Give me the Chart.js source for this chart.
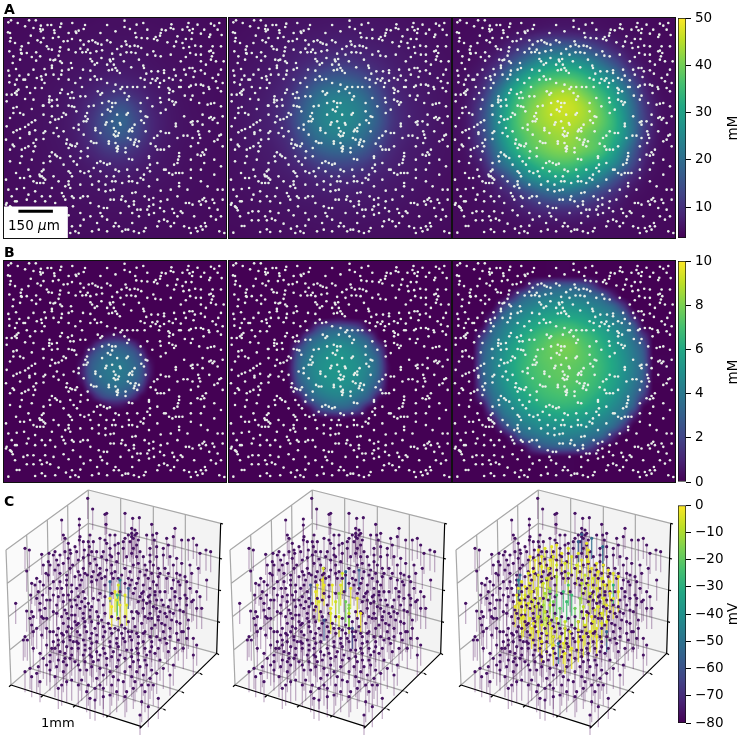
<!DOCTYPE html>
<html><head><meta charset="utf-8">
<script src="https://cdn.jsdelivr.net/npm/chart.js@4"></script>
<style>
html,body{margin:0;padding:0;background:#fff;width:743px;height:735px;overflow:hidden;font-family:"DejaVu Sans",sans-serif;color:#000}
canvas{position:absolute}
.p{outline:1px solid #111}
.t{position:absolute;white-space:pre;line-height:1}
.L{font-weight:bold;font-size:14px}
.R{font-size:13.5px;transform:translate(-50%,-50%) rotate(-90deg)}
</style></head><body>
<canvas id="a1" class="p" style="left:4px;top:18px" width="222" height="220"></canvas>
<canvas id="a2" class="p" style="left:229px;top:18px" width="222" height="220"></canvas>
<canvas id="a3" class="p" style="left:453px;top:18px" width="222" height="220"></canvas>
<canvas id="b1" class="p" style="left:4px;top:261px" width="222" height="221"></canvas>
<canvas id="b2" class="p" style="left:229px;top:261px" width="222" height="221"></canvas>
<canvas id="b3" class="p" style="left:453px;top:261px" width="222" height="221"></canvas>
<canvas id="c1" style="left:0px;top:485px" width="230" height="250"></canvas>
<canvas id="c2" style="left:224px;top:485px" width="230" height="250"></canvas>
<canvas id="c3" style="left:450px;top:485px" width="230" height="250"></canvas>
<canvas id="cbA" style="left:678px;top:8px" width="65" height="240"></canvas>
<canvas id="cbB" style="left:678px;top:251px" width="65" height="241"></canvas>
<canvas id="cbC" style="left:678px;top:495px" width="65" height="238"></canvas>
<div class="t L" style="left:4px;top:2px">A</div>
<div class="t L" style="left:4px;top:245px">B</div>
<div class="t L" style="left:4px;top:494px">C</div>
<div class="t" style="left:8px;top:219px;font-size:13.5px;z-index:3">150 <i>µ</i>m</div>
<div class="t" style="left:41px;top:716px;font-size:13px;z-index:3">1mm</div>
<div class="t R" style="left:733px;top:128px">mM</div>
<div class="t R" style="left:733px;top:372px">mM</div>
<div class="t R" style="left:733px;top:614px">mV</div>
<script>
// ---------- colour map ----------
const viridisStops=['#440154','#482475','#414487','#355f8d','#2a788e','#21918c','#22a884','#44bf70','#7ad151','#bddf26','#fde725'];
// ---------- colourbar ticks ----------
const ticksA=[10,20,30,40,50], ticksB=[0,2,4,6,8,10], ticksC=[0,-10,-20,-30,-40,-50,-60,-70,-80];
const rangeA=[3.5,50], rangeB=[0,10], rangeC=[-80,0];
// ---------- neuron positions ----------
const neuronXY=[25,68,33,62,53,70,87,62,107,62,122,78,142,76,153,76,183,72,216,70,254,76,320,76,372,63,372,82,408,75,428,70,512,74,563,70,630,72,655,70,640,78,120,88,128,90,180,82,226,96,250,88,235,93,228,100,24,98,30,100,92,108,122,95,162,92,163,100,388,88,404,100,480,100,510,85,518,88,560,82,566,92,576,88,574,100,600,102,628,105,625,112,662,106,483,90,495,92,545,90,
32,115,30,125,112,122,122,128,158,115,175,112,202,124,215,118,190,125,240,122,265,125,276,122,285,128,292,132,303,135,320,122,330,128,375,125,407,113,423,115,440,116,460,118,470,122,465,112,478,108,500,128,526,126,530,110,555,118,572,118,378,135,388,140,402,138,412,140,363,140,350,148,140,140,145,148,155,150,65,140,62,150,63,160,28,155,108,158,180,143,178,155,240,147,246,158,226,158,262,150,257,157,270,160,288,155,305,152,335,162,360,165,378,158,392,158,405,160,422,145,440,165,458,155,464,168,520,140,548,145,565,142,583,138,635,140,630,153,625,155,637,160,633,170,585,165,600,165,568,160,555,172,
38,190,60,180,65,162,95,172,108,183,150,180,160,182,165,180,175,168,180,185,185,190,155,198,212,190,205,210,133,208,155,205,25,213,48,208,28,228,58,228,70,240,75,240,123,230,125,240,137,225,160,225,185,213,183,225,175,238,215,205,248,210,270,178,275,185,303,175,283,195,270,213,283,230,290,240,302,238,320,195,330,185,340,195,345,205,335,210,325,212,350,213,358,220,328,180,338,178,392,203,428,198,430,205,452,215,437,222,432,240,455,238,472,215,490,212,490,220,505,235,520,210,525,228,516,240,465,243,470,236,478,250,490,243,566,205,575,205,582,215,578,232,630,180,645,185,668,185,615,195,600,212,612,222,652,225,635,235,550,210,555,225,540,242,
28,248,50,240,105,265,80,262,55,270,50,275,45,280,50,285,20,285,35,285,75,298,125,265,133,250,148,290,147,300,155,302,147,308,128,318,215,278,203,283,210,295,220,295,240,290,245,262,225,250,270,240,292,275,300,285,305,280,360,268,365,262,380,262,397,262,410,262,372,280,380,300,385,290,432,262,450,250,475,262,503,265,507,270,505,280,517,275,535,262,540,262,570,258,565,262,600,255,607,258,623,262,625,268,650,265,660,275,552,288,575,288,608,280,505,300,515,305,525,308,520,315,480,308,478,295,
20,305,40,325,50,322,40,340,30,355,60,340,70,345,95,328,130,318,155,320,172,318,190,340,197,345,155,350,130,345,165,360,175,358,185,352,150,368,105,362,95,368,85,375,75,382,60,388,50,392,40,398,205,318,215,320,222,322,228,335,265,320,280,318,305,310,325,305,335,310,335,322,345,310,322,330,330,335,260,340,255,350,262,358,258,365,305,345,378,345,382,340,420,310,420,335,435,350,440,352,430,370,422,362,318,368,315,375,335,365,350,345,358,370,360,375,402,375,395,385,388,390,340,385,345,395,340,405,355,400,352,408,345,410,285,385,285,392,235,390,220,385,235,375,250,365,525,372,525,380,575,375,570,368,480,340,550,350,605,345,620,315,630,312,640,310,640,355,630,352,635,360,650,370,625,355,575,365,
135,395,130,400,105,392,88,398,88,403,130,418,108,420,100,430,105,440,85,440,75,445,65,450,100,455,65,470,30,485,38,435,42,440,200,420,198,432,210,435,215,438,225,440,230,432,205,445,262,445,242,455,272,425,280,430,288,430,325,425,325,432,345,430,352,440,348,445,352,448,350,455,385,395,395,395,382,415,390,420,402,428,405,420,415,425,400,435,410,440,375,445,375,458,385,478,395,480,435,395,450,432,460,415,470,408,480,395,495,400,505,400,465,440,470,450,480,450,490,450,530,415,548,408,560,408,592,395,595,405,592,430,598,415,655,408,660,405,650,420,640,425,615,450,605,458,610,465,600,468,590,465,535,460,535,470,
155,458,148,470,150,485,165,465,170,470,180,475,190,495,130,490,125,515,118,525,120,530,125,530,130,510,230,495,240,475,262,470,290,490,300,485,310,490,320,495,328,492,280,505,265,515,252,520,240,515,300,515,318,530,345,510,355,515,340,530,345,545,335,545,448,495,440,505,448,515,430,525,420,535,445,475,490,510,495,510,505,520,515,525,525,520,535,520,545,520,530,490,520,495,532,480,570,480,570,510,610,490,640,480,640,525,100,545,110,550,120,550,130,550,135,540,130,535,48,520,60,535,72,535,18,540,205,515,210,520,215,530,205,545,205,555,195,560,210,565,270,530,275,555,295,545,365,550,385,545,385,530,395,545,428,540,600,545,570,535,535,550,535,560,480,573,470,540,650,570,665,570,
50,568,72,565,25,570,105,575,155,565,185,580,190,590,195,600,215,590,248,590,262,590,220,595,240,595,295,570,315,575,330,572,340,570,330,600,340,600,365,590,362,600,375,605,395,580,405,578,400,605,400,615,432,590,445,600,458,595,458,615,480,605,478,625,445,620,490,635,515,628,520,640,540,635,555,610,565,610,575,615,595,605,600,615,605,600,610,595,615,605,635,600,640,610,665,600,625,625,630,650,600,680,615,680,612,670,645,660,655,695,670,700,20,610,30,620,35,625,45,605,50,605,80,600,105,605,135,605,165,610,
218,620,240,640,270,650,295,620,310,625,320,625,300,640,305,650,290,670,295,690,320,695,340,680,345,670,355,680,365,695,375,690,383,690,420,630,440,630,395,640,410,630,415,650,395,670,400,695,415,700,430,695,435,685,445,645,460,640,470,680,475,665,490,660,500,665,510,680,520,670,530,650,545,640,565,685,585,685,570,700,590,695,605,690,215,680,225,695,235,700,240,678,275,695,320,660,210,700,
75,80,100,85,205,100,300,100,345,95,440,90,590,75,610,90,650,90,45,130,85,130,130,115,250,135,545,130,600,140,660,140,40,170,80,160,120,170,205,150,290,190,370,185,415,180,480,170,510,165,540,185,600,185,660,210,100,210,85,225,45,255,110,235,205,240,240,235,320,250,345,255,420,235,585,255,645,245,665,250,100,300,90,280,180,280,170,300,185,270,255,290,340,275,440,295,455,320,495,330,570,300,595,310,660,320,665,350,605,375,590,365,20,380,18,420,60,415,160,400,175,410,170,385,190,395,250,405,300,400,445,470,505,440,570,440,575,415,625,395,665,440,30,450,60,490,95,480,85,510,210,470,220,485,380,510,410,510,470,490,600,510,660,500,90,530,160,530,175,545,240,555,315,555,410,550,445,560,510,570,560,570,620,560,35,590,85,585,125,590,150,590,270,610,360,640,385,620,500,600,530,590,580,650,650,630,660,650,550,680,250,660,
18,615,32,622,38,632,82,635,100,635,135,635,160,640,190,632,205,647,50,679,58,679,105,697,125,689,135,697,165,695,25,699,80,662,100,662,125,662,140,657,150,662,175,672,197,687,45,650,120,650,70,640];
// ---------- concentration grids (mM), rows top to bottom ----------
const fullX=[12,56,100,144,189,233,277,321,366,410,454,498,542,587,631,675];
const fullY=[55,99,143,187,231,275,319,363,407,451,495,539,583,627,671,715];
const gridA1=[
[4.5,4.6,4.8,4.9,5,5.1,5.2,5.3,5.3,5.3,5.2,5.1,5,4.9,4.7,4.5],
[4.6,4.8,4.9,5,5.2,5.3,5.4,5.5,5.5,5.5,5.4,5.3,5.1,5,4.8,4.6],
[4.7,4.9,5,5.2,5.3,5.5,5.6,5.8,5.8,5.7,5.5,5.4,5.3,5.1,4.9,4.7],
[4.8,5,5.1,5.3,5.5,5.7,6,6.2,6.3,6.1,5.8,5.5,5.3,5.2,5,4.8],
[4.9,5,5.2,5.4,5.7,6.1,6.7,7.2,7.4,6.9,6.3,5.8,5.5,5.3,5.1,4.9],
[5,5.1,5.3,5.6,6,6.7,7.8,9.5,10,8.5,7,6.2,5.6,5.3,5.2,5],
[5,5.2,5.4,5.7,6.2,7.2,9.5,13,15,11.5,8,6.6,5.8,5.4,5.2,5],
[5,5.2,5.5,5.8,6.3,7.6,10.8,15.5,18,13.5,8.8,6.8,5.9,5.5,5.3,5],
[5,5.2,5.5,5.8,6.3,7.4,10.3,14.5,16.2,12.8,8.6,6.7,5.9,5.5,5.3,5],
[5,5.2,5.4,5.7,6.1,6.9,8.6,11,11.6,9.6,7.5,6.3,5.7,5.4,5.2,5],
[5,5.1,5.3,5.6,5.9,6.3,7.1,8,8.3,7.5,6.6,6,5.6,5.3,5.1,5],
[4.9,5,5.2,5.4,5.6,5.9,6.2,6.5,6.6,6.3,6,5.7,5.4,5.2,5.1,4.9],
[4.8,4.9,5.1,5.2,5.4,5.6,5.7,5.9,5.9,5.8,5.6,5.4,5.2,5.1,4.9,4.8],
[4.7,4.8,5,5.1,5.2,5.3,5.4,5.5,5.5,5.4,5.3,5.2,5.1,5,4.8,4.7],
[4.6,4.7,4.8,4.9,5,5.1,5.2,5.2,5.2,5.2,5.1,5,4.9,4.8,4.7,4.6],
[4.5,4.6,4.7,4.8,4.9,5,5,5.1,5.1,5,5,4.9,4.8,4.7,4.6,4.5]];
const gridA2=[
[5,5.1,5.3,5.5,5.7,5.9,6,6.1,6.1,6,5.9,5.7,5.5,5.3,5.1,5],
[5.1,5.3,5.5,5.8,6.1,6.4,6.6,6.8,6.8,6.6,6.4,6.1,5.8,5.5,5.3,5.1],
[5.3,5.5,5.9,6.2,6.7,7.2,7.6,8,8,7.6,7.2,6.7,6.2,5.9,5.5,5.3],
[5.4,5.7,6.1,6.6,7.3,8.3,9.5,10.8,10.8,9.5,8.3,7.3,6.6,6.1,5.7,5.4],
[5.5,6,6.4,7,8.2,10.5,14,16,16,14,10.5,8.2,7,6.4,6,5.5],
[5.6,6.1,6.6,7.5,9.3,14,19,21.5,21.5,19,14,9.3,7.5,6.6,6.1,5.6],
[5.7,6.2,6.9,8,10.5,16.5,22,24.5,24.5,22,16.5,10.5,8,6.9,6.2,5.7],
[5.7,6.2,7,8.1,11,17.5,22.5,25,25,22.5,17.5,11,8.1,7,6.2,5.7],
[5.6,6.2,6.9,7.8,10,15.5,20.5,23,23,20.5,15.5,10,7.8,6.9,6.2,5.6],
[5.6,6,6.6,7.2,8.8,12.5,16.5,18.5,18.5,16.5,12.5,8.8,7.2,6.6,6,5.6],
[5.5,5.8,6.3,6.9,7.7,9.2,11.5,13,13,11.5,9.2,7.7,6.9,6.3,5.8,5.5],
[5.3,5.6,6,6.4,6.9,7.4,8.3,8.9,8.9,8.3,7.4,6.9,6.4,6,5.6,5.3],
[5.2,5.4,5.7,6,6.3,6.7,7,7.2,7.2,7,6.7,6.3,6,5.7,5.4,5.2],
[5,5.2,5.4,5.6,5.9,6.1,6.2,6.4,6.4,6.2,6.1,5.9,5.6,5.4,5.2,5],
[4.9,5,5.2,5.3,5.5,5.6,5.7,5.9,5.9,5.7,5.6,5.5,5.3,5.2,5,4.9],
[4.7,4.8,5,5.1,5.2,5.3,5.4,5.5,5.5,5.4,5.3,5.2,5.1,5,4.8,4.7]];
const gridA3=[
[4.5,4.6,4.8,4.9,5,5.2,5.4,5.6,5.6,5.4,5.2,5,4.9,4.8,4.6,4.5],
[4.6,4.8,5,5.2,5.6,6.5,7.5,8,7.8,7.2,6.3,5.6,5.1,4.9,4.7,4.5],
[4.8,5,5.4,6.2,8.8,12.5,16.5,18,17.5,15,11.5,8,6,5.2,4.9,4.7],
[4.9,5.2,6.2,8.8,15,21,26,28,27.5,25,20,14,8,5.7,5,4.8],
[5,5.8,8,14,23,30,34,36,36,33,28,22,13,7,5.2,4.9],
[5.1,6.2,10,20,30,36,40,43,43,39,34,28,19,9,5.5,5],
[5.2,6.7,13,24,33,39,43,46,46,43,38,31,22,11,6,5.1],
[5.3,6.9,14,25,34,40,43,45,45,43,39,33,23,12,6,5.1],
[5.2,6.7,13,24,33,38,41,43,43,40,37,32,23,11,5.8,5.1],
[5.1,6.2,11,21,30,36,39,41,41,39,36,29,19,9,5.5,5],
[5,5.6,8,17,24,30,34,36,36,33,30,24,15,7.5,5.2,4.9],
[4.9,5.2,6.2,9.5,16,23,27,29,29,26,22,15,9,5.8,5,4.8],
[4.8,5,5.4,6.8,9,13,17,19,19,16.5,12.5,9,6,5.2,4.9,4.7],
[4.7,4.9,5.1,5.6,6.5,8,9.5,10,10,9,7.5,6.2,5.4,5,4.8,4.6],
[4.6,4.7,4.9,5,5.3,5.6,5.9,6.1,6.1,5.8,5.5,5.2,5,4.8,4.7,4.5],
[4.5,4.6,4.7,4.8,4.9,5,5.1,5.2,5.2,5.1,5,4.9,4.8,4.7,4.6,4.5]];
const b1X=[224,246,268,290,312,334,356,378,400,422,444,466];
const b1Y=[261,283,305,327,349,371,393,415,437,459,481,503];
const gridB1=[
[0,0,0,0,0,0,0,0,0,0,0,0],
[0,0,0,0,.5,.9,.9,.5,0,0,0,0],
[0,0,.2,1.4,2.3,2.6,2.6,2.3,1.4,.2,0,0],
[0,0,1.4,2.6,3.1,3.4,3.4,3.1,2.6,1.4,0,0],
[0,.5,2.3,3.1,3.6,3.8,3.8,3.6,3.1,2.3,.5,0],
[0,.9,2.6,3.4,3.8,4,4.1,3.8,3.4,2.6,.9,0],
[0,.9,2.6,3.4,3.8,4,4,3.8,3.4,2.6,.9,0],
[0,.5,2.3,3.1,3.6,3.8,3.8,3.6,3.1,2.3,.5,0],
[0,0,1.4,2.6,3.1,3.4,3.4,3.1,2.6,1.4,0,0],
[0,0,.2,1.4,2.3,2.6,2.6,2.3,1.4,.2,0,0],
[0,0,0,0,.5,.9,.9,.5,0,0,0,0],
[0,0,0,0,0,0,0,0,0,0,0,0]];
const b2X=[159,189,219,249,279,309,339,369,399,429,459,489,519];
const b2Y=[196,226,256,286,316,346,376,406,436,466,496,526,556];
const gridB2=[
[0,0,0,0,0,0,0,0,0,0,0,0,0],
[0,0,0,0,0,.1,.3,.1,0,0,0,0,0],
[0,0,0,.3,2,2.8,3,2.8,2,.3,0,0,0],
[0,0,.3,2.5,3.5,4,4.2,4,3.5,2.5,.3,0,0],
[0,0,2,3.5,4.3,4.7,4.9,4.7,4.3,3.5,2,0,0],
[0,.1,2.8,4,4.7,5,5.2,5,4.7,4,2.8,.1,0],
[0,.3,3,4.2,4.8,5.1,5.2,5.1,4.8,4.2,3,.3,0],
[0,.1,2.8,4,4.7,5,5.1,5,4.7,4,2.8,.1,0],
[0,0,2,3.5,4.3,4.7,4.8,4.7,4.3,3.5,2,0,0],
[0,0,.3,2.5,3.5,4,4.2,4,3.5,2.5,.3,0,0],
[0,0,0,.3,2,2.8,3,2.8,2,.3,0,0,0],
[0,0,0,0,0,.1,.3,.1,0,0,0,0,0],
[0,0,0,0,0,0,0,0,0,0,0,0,0]];
const b3X=[70,100,130,160,190,220,250,280,310,340,370,400,430,460,490,520,550,580,610];
const b3Y=[100,130,160,190,220,250,280,310,340,370,400,430,460,490,520,550,580,610,640];
const gridB3=[
[0,0,0,0,0,0,0,0,.05,.1,.05,0,0,0,0,0,0,0,0],
[0,0,0,0,0,.3,1.7,2.6,2.9,3,2.9,2.6,1.7,.3,0,0,0,0,0],
[0,0,0,0,1.1,2.9,3.5,3.9,4.1,4.2,4.1,3.9,3.5,2.9,1.1,0,0,0,0],
[0,0,0,1.7,3.3,4,4.4,4.8,5,5.1,5,4.8,4.4,4,3.3,1.7,0,0,0],
[0,0,1.1,3.3,4.1,4.7,5.2,5.6,5.8,5.9,5.8,5.6,5.2,4.7,4.1,3.3,1.1,0,0],
[0,.3,2.9,4,4.7,5.4,5.9,6.3,6.6,6.8,6.7,6.3,5.9,5.4,4.7,4,2.9,.3,0],
[0,1.7,3.5,4.4,5.2,5.9,6.5,7,7.3,7.5,7.4,7,6.5,5.9,5.2,4.4,3.5,1.7,0],
[0,2.6,3.9,4.8,5.6,6.2,6.9,7.3,7.7,7.9,7.8,7.3,6.9,6.2,5.6,4.8,3.9,2.6,0],
[.05,2.9,4.1,5,5.8,6.4,7,7.4,7.6,7.8,7.7,7.4,7,6.4,5.8,5,4.1,2.9,.05],
[.1,3,4.2,5.1,5.9,6.5,7,7.3,7.5,7.6,7.5,7.3,7,6.5,5.9,5.1,4.2,3,.1],
[.05,2.9,4.1,5,5.8,6.4,6.9,7.2,7.4,7.5,7.4,7.2,6.9,6.4,5.8,5,4.1,2.9,.05],
[0,2.6,3.9,4.8,5.6,6.2,6.7,7,7.2,7.3,7.2,7,6.7,6.2,5.6,4.8,3.9,2.6,0],
[0,1.7,3.5,4.4,5.2,5.8,6.3,6.7,6.9,7,6.9,6.7,6.3,5.8,5.2,4.4,3.5,1.7,0],
[0,.3,2.9,4,4.7,5.4,5.8,6.2,6.4,6.5,6.4,6.2,5.8,5.4,4.7,4,2.9,.3,0],
[0,0,1.1,3.3,4.1,4.7,5.1,5.5,5.7,5.8,5.7,5.5,5.1,4.7,4.1,3.3,1.1,0,0],
[0,0,0,1.7,3.3,4,4.4,4.8,4.9,5,4.9,4.8,4.4,4,3.3,1.7,0,0,0],
[0,0,0,0,1.1,2.9,3.5,3.9,4.1,4.2,4.1,3.9,3.5,2.9,1.1,0,0,0,0],
[0,0,0,0,0,.3,1.7,2.6,2.9,3,2.9,2.6,1.7,.3,0,0,0,0,0],
[0,0,0,0,0,0,0,0,.05,.1,.05,0,0,0,0,0,0,0,0]];
// ---------- scale bar and its box (panel A, left) ----------
const scaleBox=[[12,622],[200,622],[200,715],[12,715],[12,622]];
const scaleBar=[[55,635],[158,635]];
// ---------- 3-D view: neuron heads as they read on screen ----------
const headsXY=[263,40,278,72,320,85,315,88,185,105,238,102,238,120,318,118,375,85,398,100,418,98,455,118,525,130,395,145,395,155,400,160,405,150,415,165,470,145,458,150,463,165,
75,190,88,195,125,208,147,205,160,210,130,240,145,230,170,225,175,240,190,235,195,160,190,150,205,175,240,155,238,165,270,150,268,185,253,195,250,218,290,200,300,160,315,165,330,190,345,180,320,175,370,170,370,190,390,170,400,190,410,180,420,200,440,150,500,160,520,155,545,165,565,165,580,160,590,180,600,205,618,195,632,200,505,180,490,190,470,185,450,190,450,230,435,240,460,240,475,250,495,250,520,240,530,265,540,270,500,280,475,275,445,280,420,260,400,240,390,260,375,250,350,230,335,240,320,225,300,250,290,240,270,235,250,250,235,260,210,250,180,265,160,290,150,310,130,300,110,280,95,295,80,258,47,355,80,378,95,380,100,395,75,455,82,465,100,490,125,450,140,400,150,345,160,380,170,360,190,350,205,330,225,345,215,300,240,300,250,320,275,290,290,285,305,280,315,300,340,280,300,325,280,340,265,355,245,350,240,370,225,390,205,400,190,415,175,430,160,470,200,440,215,430,230,420,250,400,270,395,290,380,310,360,390,300,410,295,430,300,450,310,470,300,495,320,515,310,540,300,560,290,570,310,590,320,620,285,590,370,565,405,550,380,530,360,510,345,490,360,470,370,450,385,430,370,415,350,400,400,385,410,365,420,345,430,325,415,305,405,285,430,260,440,240,450,220,470,200,485,180,500,165,490,150,510,140,540,115,545,90,550,75,560,110,565,150,555,165,575,175,610,200,540,225,530,215,585,250,510,270,490,290,470,310,455,330,470,350,460,365,445,385,440,405,425,425,415,445,400,465,420,485,415,510,430,530,410,560,460,580,460,590,480,550,490,525,490,500,475,480,465,455,470,430,470,410,490,395,515,380,495,360,510,340,500,320,520,300,510,280,530,260,555,245,585,270,640,285,645,335,600,350,620,375,635,420,690,445,665,475,640,430,570,420,545,410,560,395,575,445,600,460,600,510,570,400,530,415,525,440,510,465,505,350,545,330,560,310,570,290,580,300,600,
200,300,215,320,230,310,245,285,262,270,280,260,300,265,320,255,345,260,365,270,385,280,405,310,425,325,445,335,465,330,480,320,460,290,440,255,415,235,395,205,380,215,355,205,335,215,305,215,285,222,265,210,235,225,218,240,200,270,180,290,172,310,195,375,215,365,235,335,255,340,270,375,250,385,225,410,205,425,185,445,210,465,232,440,255,425,275,445,295,415,315,440,335,445,355,435,375,430,395,440,415,455,435,440,455,430,475,395,495,385,510,380,470,345,450,350,430,345,410,380,275,475,255,480,235,490,215,510,195,520,270,510,290,500,310,490,330,485,355,485,375,470,395,465,415,475,435,490,450,500,190,470,175,465,130,400,120,375,110,340,145,270,165,255,205,220,95,420,160,440,140,480,120,505,175,525,190,560,240,555,265,600,310,610,355,585,375,560,440,540,455,555,480,525,505,500,535,465,545,440,565,430,605,370,575,350,555,330,525,320,
395,130,405,135,410,145,385,150,375,160,345,150,330,150,280,170,265,170,250,170,225,185,210,195,195,200,180,210,165,200,150,240,138,265,120,290,105,300,92,330,128,330,140,345,160,330,175,335,185,310,200,285,225,275,240,270,255,265,275,275,295,270,315,275,335,265,355,280,375,295,395,285,415,280,435,270,455,265,480,265,505,265,520,285,535,290,555,275,575,265,595,250,570,240,545,235,530,220,510,215,490,210,470,215,450,210,430,215,410,215,355,175,330,210,310,200,275,200,230,200,212,205,
190,330,210,345,230,360,255,365,275,365,295,345,315,335,335,325,360,320,400,325,420,335,440,355,460,365,480,380,500,395,520,385,540,375,560,360,580,345,600,335,560,340,540,340,525,335,505,365,485,345,465,320,450,330,430,320,
170,385,185,395,200,385,215,390,235,415,255,410,275,410,295,395,315,385,335,395,355,400,375,395,395,380,415,385,435,395,455,400,475,405,495,420,515,405,540,415,550,440,530,445,510,455,490,440,470,455,450,455,430,445,410,445,390,455,370,460,350,475,330,430,310,425,290,450,270,460,250,465,230,470,210,455,190,450,170,450,150,440,140,430,
155,490,175,480,195,505,215,490,235,475,255,495,275,515,295,525,315,505,335,515,355,525,375,520,395,495,415,505,435,525,455,485,475,490,495,460,100,440,90,400,70,465,135,370,120,355,115,320,125,395,110,430,
130,520,150,530,170,545,190,530,210,520,235,540,255,530,275,545,300,550,320,540,340,575,370,590,390,545,405,590,425,600,435,620,450,580,470,565,490,550,520,540,580,510,425,650,400,610,380,620,330,630,310,635,285,610,260,620,235,600,200,590,185,600,120,590,95,575];
const active1=[[355,300,-5],[345,320,-3],[330,340,-3],[350,345,-5],[335,365,-2],[360,360,-3],[380,360,-4],[375,330,-4],[352,330,-25],[330,290,-55],[385,310,-58],[360,285,-45]];
const active2=[[298,250,-5],[295,285,-3],[275,320,-3],[300,300,-2],[325,300,-3],[350,300,-4],[355,265,-6],[380,310,-4],[400,340,-3],[410,385,-2],[375,385,-8],[320,370,-3],[285,350,-4],[335,350,-6],[375,360,-15],[365,350,-18],[375,370,-14],[345,325,-12],[320,385,-4],[280,300,-3],[365,260,-55],[405,255,-58],[300,405,-60],[260,300,-62],[385,430,-62],[345,395,-5]];
const active3=[[240,215,-3],[265,195,-3],[285,190,-4],[305,185,-3],[320,180,-3],[355,190,-4],[385,205,-4],[410,175,-3],[415,195,-3],[365,215,-5],[310,215,-4],[275,215,-3],[255,225,-3],[235,265,-4],[215,290,-3],[205,310,-3],[240,295,-4],[265,270,-5],[295,250,-4],[320,240,-6],[345,235,-5],[380,240,-6],[415,230,-3],[440,235,-3],[460,240,-3],[475,255,-3],[490,265,-4],[505,275,-3],[480,290,-4],[455,280,-5],[430,280,-6],[405,270,-7],[260,310,-5],[280,295,-6],[300,310,-10],[195,365,-3],[210,355,-3],[225,375,-4],[250,345,-6],[270,340,-7],[200,330,-3],[240,400,-4],[265,395,-6],[285,380,-7],[300,360,-8],[320,400,-7],[345,410,-7],[385,410,-5],[410,390,-5],[435,375,-5],[455,385,-4],[470,360,-3],[490,340,-3],[505,320,-3],[460,340,-5],[470,410,-4],[455,415,-4],[440,430,-4],[420,440,-4],[400,455,-3],[385,470,-3],[365,490,-3],[345,505,-3],[330,455,-5],[290,445,-4],[265,440,-3],[310,480,-3],[245,430,-3],[215,400,-4],[225,330,-5],[345,430,-6],[305,430,-5],[430,410,-4],[300,320,-18],[320,330,-22],[340,320,-25],[355,300,-24],[365,330,-26],[350,350,-25],[330,370,-20],[375,370,-18],[390,340,-15],[310,350,-16],[285,325,-12],[280,360,-12],[395,148,-58],[425,160,-52],[458,185,-50],[210,270,-55],[470,440,-55],[325,475,-50],[205,285,-45],[490,300,-30],[385,170,-55],
[250,260,-3],[275,245,-4],[300,225,-3],[335,205,-3],[395,225,-4],[425,250,-3],[445,260,-3],[465,300,-3],[480,325,-3],[440,310,-5],[420,325,-7],[245,320,-4],[225,305,-3],[215,340,-3],[235,355,-4],[220,395,-3],[250,415,-3],[275,420,-4],[300,415,-4],[360,440,-4],[385,435,-4],[405,420,-4],[425,395,-3],[445,365,-4],[340,475,-3],[310,455,-4],[275,470,-3],[440,455,-3],[355,265,-8],[320,275,-10],[290,280,-7],[395,295,-9],[415,300,-7],[260,365,-6],[290,400,-8],[400,365,-8]];
// ---------- 3-D box ----------
const floorPane=[[33,600],[265,400],[650,505],[425,725],[33,600]];
const leftPane=[[18,195],[265,15],[265,400],[33,600],[18,195]];
const rightPane=[[265,15],[662,115],[650,505],[265,400],[265,15]];
const gridSegs=[[80,150,91,550],[142,105,149,500],[203,60,207,450],[265,15,265,400],[18,195,265,15],[22,295,265,115],[25,395,265,210],[29,495,265,305],[33,600,265,400],
[362,40,362,426],[460,65,460,453],[556,90,556,479],[265,15,662,115],[265,115,659,220],[265,210,656,315],[265,305,653,410],[265,400,650,505],
[128,632,362,426],[225,662,460,453],[325,692,556,479],[91,550,490,672],[149,500,545,620],[207,450,600,565],[18,195,33,600]];
const axisSegs=[[33,600,425,725],[425,725,650,505],[650,505,662,115],
[128,632,122,637],[225,662,219,667],[325,692,319,697],[490,672,497,676],[545,620,552,624],[600,565,607,569],
[33,600,27,605],[425,725,419,730],[650,505,657,509],[662,115,669,117],[659,220,666,222],[656,315,663,317],[653,410,660,412]];

// ---------- helpers ----------
const hex=h=>[1,3,5].map(i=>parseInt(h.substr(i,2),16));
const rgbStops=viridisStops.map(hex);
function cmap(t){t=Math.max(0,Math.min(1,t))*(rgbStops.length-1);const i=Math.min(Math.floor(t),rgbStops.length-2),f=t-i,a=rgbStops[i],b=rgbStops[i+1];return [a[0]+(b[0]-a[0])*f,a[1]+(b[1]-a[1])*f,a[2]+(b[2]-a[2])*f];}
const css=(c,al=1)=>`rgba(${c[0]|0},${c[1]|0},${c[2]|0},${al})`;
const pairs=a=>{const o=[];for(let i=0;i<a.length;i+=2)o.push({x:a[i],y:a[i+1]});return o;};
const xyObjs=a=>a.map(p=>({x:p[0],y:p[1]}));
const segs=a=>{const o=[];a.forEach(s=>{o.push({x:s[0],y:s[1]},{x:s[2],y:s[3]},{x:NaN,y:NaN});});return o;};
const cr=(p0,p1,p2,p3,t)=>.5*((2*p1)+(-p0+p2)*t+(2*p0-5*p1+4*p2-p3)*t*t+(-p0+3*p1-3*p2+p3)*t*t*t);
const hidden={display:false};
Chart.defaults.font.family='"DejaVu Sans",sans-serif';

function heatPlugin(xs,ys,grid,range){return{id:'heatImage',beforeDatasetsDraw(chart){
  const A=chart.chartArea,W=Math.round(A.right-A.left),H=Math.round(A.bottom-A.top),sx=chart.scales.x,sy=chart.scales.y;
  const off=document.createElement('canvas');off.width=W;off.height=H;const c=off.getContext('2d'),im=c.createImageData(W,H);
  const nx=xs.length,ny=ys.length,dx=xs[1]-xs[0],dy=ys[1]-ys[0];
  const at=(j,i)=>grid[Math.max(0,Math.min(ny-1,j))][Math.max(0,Math.min(nx-1,i))];
  for(let py=0;py<H;py++){const fy=Math.max(0,Math.min(ny-1,(sy.getValueForPixel(A.top+py+.5)-ys[0])/dy)),j=Math.min(Math.floor(fy),ny-2),ty=fy-j;
    for(let px=0;px<W;px++){const fx=Math.max(0,Math.min(nx-1,(sx.getValueForPixel(A.left+px+.5)-xs[0])/dx)),i=Math.min(Math.floor(fx),nx-2),tx=fx-i;
      const r=[];for(let k=-1;k<3;k++)r.push(cr(at(j+k,i-1),at(j+k,i),at(j+k,i+1),at(j+k,i+2),tx));
      const v=cr(r[0],r[1],r[2],r[3],ty),col=cmap((v-range[0])/(range[1]-range[0])),o=(py*W+px)*4;
      im.data[o]=col[0];im.data[o+1]=col[1];im.data[o+2]=col[2];im.data[o+3]=255;}}
  c.putImageData(im,0,0);chart.ctx.drawImage(off,A.left,A.top);
}};}

function concentrationPanel(id,xs,ys,grid,range,withScale){
  const cells=[];grid.forEach((row,j)=>row.forEach((v,i)=>cells.push({x:xs[i],y:ys[j],v})));
  const ds=[];
  if(withScale){
    ds.push({data:xyObjs(scaleBar),showLine:true,borderColor:'#000',borderWidth:3,pointRadius:0});
    ds.push({data:xyObjs(scaleBox),showLine:true,fill:'shape',backgroundColor:'#fff',borderColor:'#fff',borderWidth:1,pointRadius:0});
  }
  ds.push({data:pairs(neuronXY),backgroundColor:'#e8efe8',borderWidth:0,pointRadius:1.3});
  ds.push({data:cells,pointRadius:0});
  new Chart(document.getElementById(id),{type:'scatter',data:{datasets:ds},plugins:[heatPlugin(xs,ys,grid,range)],options:{
    responsive:false,animation:false,events:[],layout:{autoPadding:false,padding:0},
    plugins:{legend:hidden,tooltip:{enabled:false}},
    scales:{x:{display:false,min:12,max:675},y:{display:false,reverse:true,min:55,max:715}}}});
}
concentrationPanel('a1',fullX,fullY,gridA1,rangeA,true);
concentrationPanel('a2',fullX,fullY,gridA2,rangeA,false);
concentrationPanel('a3',fullX,fullY,gridA3,rangeA,false);
concentrationPanel('b1',b1X,b1Y,gridB1,rangeB,false);
concentrationPanel('b2',b2X,b2Y,gridB2,rangeB,false);
concentrationPanel('b3',b3X,b3Y,gridB3,rangeB,false);

function voltagePanel(id,active){
  const stemDrop=62, base=-76;
  const all=pairs(headsXY).map(p=>({...p,v:base})).concat(active.map(a=>({x:a[0],y:a[1],v:a[2]})));
  const stems=[];all.forEach(p=>{stems.push({x:p.x,y:p.y,v:p.v},{x:p.x,y:p.y+stemDrop,v:p.v},{x:NaN,y:NaN,v:0});});
  const vc=v=>cmap((v-rangeC[0])/(rangeC[1]-rangeC[0]));
  const isActive=c=>c.p0.raw&&c.p0.raw.v>base;
  new Chart(document.getElementById(id),{type:'scatter',data:{datasets:[
    {data:all,pointRadius:1.6,borderWidth:0,backgroundColor:c=>css(vc(c.raw?c.raw.v:base))},
    {data:stems,showLine:true,pointRadius:0,borderWidth:1.3,borderColor:'rgba(68,1,84,.3)',segment:{borderWidth:c=>isActive(c)?1.4:1.3,borderColor:c=>isActive(c)?css(vc(c.p0.raw.v),.8):'rgba(68,1,84,.3)'}},
    {data:segs(axisSegs),showLine:true,pointRadius:0,borderColor:'#000',borderWidth:1.2},
    {data:segs(gridSegs),showLine:true,pointRadius:0,borderColor:'#a8a8a8',borderWidth:1.2},
    {data:xyObjs(leftPane),showLine:true,fill:'shape',backgroundColor:'#fafafa',borderColor:'#f4f4f4',borderWidth:.5,pointRadius:0},
    {data:xyObjs(rightPane),showLine:true,fill:'shape',backgroundColor:'#f3f3f3',borderColor:'#f0f0f0',borderWidth:.5,pointRadius:0},
    {data:xyObjs(floorPane),showLine:true,fill:'shape',backgroundColor:'#f7f7f7',borderColor:'#f0f0f0',borderWidth:.5,pointRadius:0}
  ]},options:{responsive:false,animation:false,events:[],layout:{autoPadding:false,padding:0},
    plugins:{legend:hidden,tooltip:{enabled:false}},
    scales:{x:{display:false,min:0,max:690},y:{display:false,reverse:true,min:0,max:750}}}});
}
voltagePanel('c1',active1);
voltagePanel('c2',active2);
voltagePanel('c3',active3);

function colourbar(id,range,ticks,padTop,padBottom){
  new Chart(document.getElementById(id),{type:'bar',data:{labels:[''],datasets:[{data:[[range[0],range[1]]],barPercentage:1,categoryPercentage:1,borderWidth:1,borderColor:'#111',borderSkipped:false,
    backgroundColor(c){const a=c.chart.chartArea;if(!a)return '#440154';const g=c.chart.ctx.createLinearGradient(0,a.bottom,0,a.top);viridisStops.forEach((s,i)=>g.addColorStop(i/(viridisStops.length-1),s));return g;}}]},
   options:{responsive:false,animation:false,events:[],layout:{autoPadding:false,padding:{top:padTop,bottom:padBottom,left:0,right:0}},
    plugins:{legend:hidden,tooltip:{enabled:false}},
    scales:{x:{display:false},
     y:{position:'right',min:range[0],max:range[1],afterFit:s=>{s.width=57;s.paddingTop=0;s.paddingBottom=0;},afterBuildTicks:s=>{s.ticks=ticks.map(v=>({value:v}));},
        grid:{drawOnChartArea:false,drawTicks:true,tickLength:5,tickColor:'#000',tickWidth:1},border:{display:false},
        ticks:{color:'#000',padding:4,font:{size:13.5},autoSkip:false,maxRotation:0,callback:v=>String(v).replace('-','\u2212')}}}}});
}
colourbar('cbA',rangeA,ticksA,10,10);
colourbar('cbB',rangeB,ticksB,10,10);
colourbar('cbC',rangeC,ticksC,10,10);
</script>
</body></html>
